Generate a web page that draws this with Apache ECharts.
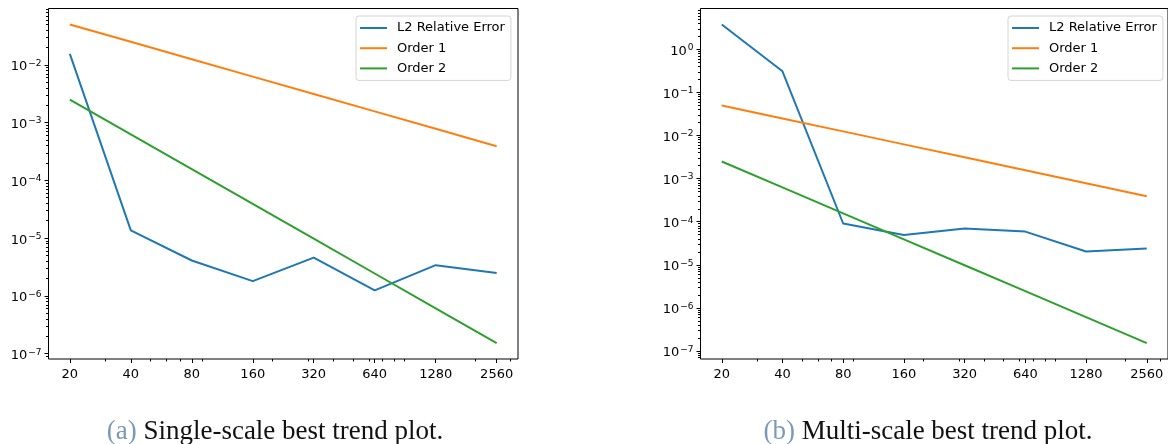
<!DOCTYPE html>
<html><head><meta charset="utf-8">
<script src="https://cdn.jsdelivr.net/npm/echarts@6/dist/echarts.min.js"></script>
<style>html,body{margin:0;padding:0;background:#fff}#c{width:1168px;height:444px}</style>
</head><body><div id="c"></div>
<script>
// ---- data ----
const seriesNames = ['L2 Relative Error', 'Order 1', 'Order 2'];
const xValues = [20, 40, 80, 160, 320, 640, 1280, 2560];
const xMinorTicks = [30, 50, 60, 70, 90, 200, 300, 400, 500, 600, 700, 800, 900, 2000, 3000];

const singleL2     = [1.55e-2, 1.36e-5, 4.1e-6, 1.8e-6, 4.6e-6, 1.25e-6, 3.4e-6, 2.5e-6];
const singleOrder1 = [5e-2, 2.5e-2, 1.25e-2, 6.25e-3, 3.125e-3, 1.5625e-3, 7.8125e-4, 3.90625e-4];
const singleOrder2 = [2.5e-3, 6.25e-4, 1.5625e-4, 3.90625e-5, 9.765625e-6, 2.44140625e-6, 6.103515625e-7, 1.52587890625e-7];

const multiL2     = [3.8, 0.31, 9.1e-5, 4.9e-5, 7.0e-5, 5.9e-5, 2.04e-5, 2.4e-5];
const multiOrder1 = [5e-2, 2.5e-2, 1.25e-2, 6.25e-3, 3.125e-3, 1.5625e-3, 7.8125e-4, 3.90625e-4];
const multiOrder2 = [2.5e-3, 6.25e-4, 1.5625e-4, 3.90625e-5, 9.765625e-6, 2.44140625e-6, 6.103515625e-7, 1.52587890625e-7];

const singleYTicks = [1e-7, 1e-6, 1e-5, 1e-4, 1e-3, 1e-2];
const multiYTicks  = [1e-7, 1e-6, 1e-5, 1e-4, 1e-3, 1e-2, 1e-1, 1e0];

const captionA = ['(a)', 'Single-scale best trend plot.'];
const captionB = ['(b)', 'Multi-scale best trend plot.'];

// ---- style ----
const colors = ['#1f77b4', '#ff7f0e', '#2ca02c'];
const FONT = 'DejaVu Sans';
const FS = 13;

function logRange(vals, base) {
  const l = vals.map(v => Math.log(v) / Math.log(base));
  const lo = Math.min(...l), hi = Math.max(...l), pad = (hi - lo) * 0.05;
  return [Math.pow(base, lo - pad), Math.pow(base, hi + pad)];
}
function minorLog(range) {
  const out = [];
  for (let d = Math.floor(Math.log10(range[0])); d <= Math.ceil(Math.log10(range[1])); d++) {
    for (let k = 2; k <= 9; k++) {
      const v = k * Math.pow(10, d);
      if (v >= range[0] && v <= range[1]) out.push(v);
    }
  }
  return out;
}
function expLabel(v) {
  const e = Math.round(Math.log10(v));
  return '{b|10}{s|' + (e < 0 ? '\u2212' + (-e) : String(e)) + '}';
}

const xRange = logRange(xValues, 2);

const panels = [
  { grid: { left: 48.5, top: 8.5, width: 469.5, height: 350.5 }, legendLeft: 356,
    series: [singleL2, singleOrder1, singleOrder2], yTicks: singleYTicks },
  { grid: { left: 700.5, top: 8.5, width: 469.5, height: 350.5 }, legendLeft: 1008,
    series: [multiL2, multiOrder1, multiOrder2], yTicks: multiYTicks }
];

const option = {
  animation: false,
  backgroundColor: '#fff',
  grid: [], xAxis: [], yAxis: [], series: [], legend: [], graphic: []
};

panels.forEach((p, gi) => {
  const yRange = logRange([].concat(...p.series), 10);
  option.grid.push(Object.assign({ show: true, borderColor: '#000', borderWidth: 1, backgroundColor: 'transparent' }, p.grid));
  option.xAxis.push({
    type: 'log', logBase: 2, gridIndex: gi, position: 'bottom', min: xRange[0], max: xRange[1],
    axisLine: { show: false },
    splitLine: { show: false },
    axisTick: { show: true, customValues: xValues, length: 4, lineStyle: { color: '#000', width: 1 } },
    axisLabel: { customValues: xValues, margin: 9, color: '#000', fontFamily: FONT, fontSize: FS,
      formatter: v => String(Math.round(v)) }
  });
  option.xAxis.push({
    type: 'log', logBase: 2, gridIndex: gi, position: 'bottom', min: xRange[0], max: xRange[1],
    axisLine: { show: false }, splitLine: { show: false }, axisLabel: { show: false },
    axisTick: { show: true, customValues: xMinorTicks, length: 2.5, lineStyle: { color: '#000', width: 1 } }
  });
  option.yAxis.push({
    type: 'log', logBase: 10, gridIndex: gi, position: 'left', min: yRange[0], max: yRange[1],
    axisLine: { show: false }, splitLine: { show: false },
    axisTick: { show: true, customValues: p.yTicks, length: 4, lineStyle: { color: '#000', width: 1 } },
    axisLabel: { customValues: p.yTicks, margin: 7, formatter: expLabel,
      rich: {
        b: { fontFamily: FONT, fontSize: FS, color: '#000', padding: [4, 0, 0, 0] },
        s: { fontFamily: FONT, fontSize: 9, color: '#000', padding: [2.5, 0, 5.5, 1] }
      } }
  });
  option.yAxis.push({
    type: 'log', logBase: 10, gridIndex: gi, position: 'left', min: yRange[0], max: yRange[1],
    axisLine: { show: false }, splitLine: { show: false }, axisLabel: { show: false },
    axisTick: { show: true, customValues: minorLog(yRange), length: 2.5, lineStyle: { color: '#000', width: 1 } }
  });
  p.series.forEach((vals, si) => {
    option.series.push({
      type: 'line', name: seriesNames[si], xAxisIndex: gi * 2, yAxisIndex: gi * 2,
      data: xValues.map((x, i) => [x, vals[i]]),
      symbol: 'none', silent: true,
      lineStyle: { color: colors[si], width: 2, join: 'round' },
      itemStyle: { color: colors[si] }
    });
  });
  option.legend.push({
    orient: 'vertical', left: p.legendLeft, top: 16, padding: [5, 6, 5, 4], itemGap: 6.2,
    itemWidth: 27, itemHeight: 2, icon: 'rect', selectedMode: false,
    backgroundColor: '#fff', borderColor: '#d4d4d4', borderWidth: 1, borderRadius: 3,
    textStyle: { fontFamily: FONT, fontSize: FS, color: '#000', lineHeight: 14, padding: [0, 0, 0, 5] },
    data: seriesNames
  });
});

[[captionA, 275], [captionB, 928]].forEach(([cap, cx]) => {
  option.graphic.push({
    type: 'text', x: cx, y: 432,
    style: {
      text: '{l|' + cap[0] + '} {t|' + cap[1] + '}',
      align: 'center', verticalAlign: 'middle',
      rich: {
        l: { fontFamily: 'Liberation Serif', fontSize: 27, fill: '#7b9ab8' },
        t: { fontFamily: 'Liberation Serif', fontSize: 27, fill: '#111' }
      },
      fontFamily: 'Liberation Serif', fontSize: 27
    }
  });
});

const chart = echarts.init(document.getElementById('c'), null, { renderer: 'canvas' });
chart.setOption(option);
</script>
</body></html>
